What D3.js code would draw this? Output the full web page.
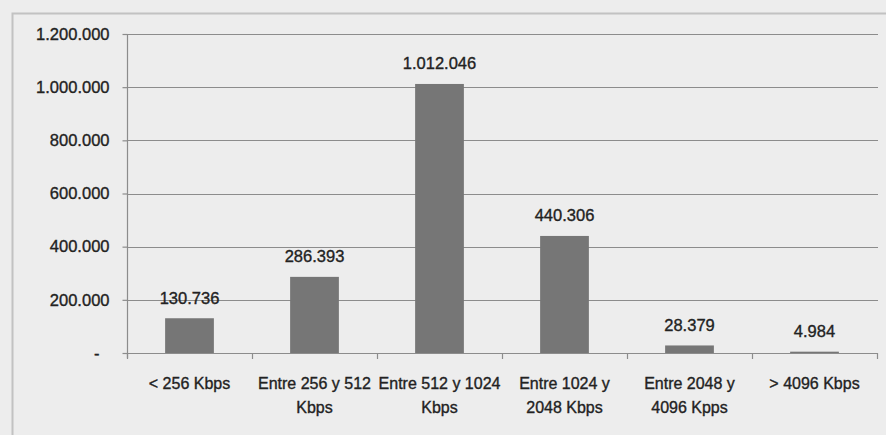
<!DOCTYPE html>
<html>
<head>
<meta charset="utf-8">
<script src="https://cdn.jsdelivr.net/npm/d3@7"></script>
<style>
  html, body { margin: 0; padding: 0; background: #ededed; }
  svg { display: block; }
  text { font-family: "Liberation Sans", Arial, sans-serif; fill: #222; stroke: #222; stroke-width: 0.35px; }
</style>
</head>
<body>
<svg id="chart" width="886" height="435"></svg>
<script>
// Internet connections by contracted speed
const categories = [
  "< 256 Kbps",
  "Entre 256 y 512 Kbps",
  "Entre 512 y 1024 Kbps",
  "Entre 1024 y 2048 Kbps",
  "Entre 2048 y 4096 Kpps",
  "> 4096 Kbps"
];
const categoryLines = [
  ["< 256 Kbps"],
  ["Entre 256 y 512", "Kbps"],
  ["Entre 512 y 1024", "Kbps"],
  ["Entre 1024 y", "2048 Kbps"],
  ["Entre 2048 y", "4096 Kpps"],
  ["> 4096 Kbps"]
];
const values = [130736, 286393, 1012046, 440306, 28379, 4984];
const yTicks = [0, 200000, 400000, 600000, 800000, 1000000, 1200000];

const svg = d3.select("#chart");
const W = 886, H = 435;
const plot = { left: 127, right: 877, top: 34, bottom: 353 };
const numSize = 16.5, catSize = 16;

// es-ES style number formatting: dots as thousands separator
const locale = d3.formatLocale({ decimal: ",", thousands: ".", grouping: [3], currency: ["", " €"] });
const fmt = locale.format(",.0f");

// outer chart frame
svg.append("rect")
  .attr("x", 12.5).attr("y", 13.5)
  .attr("width", W).attr("height", H)
  .attr("fill", "none")
  .attr("stroke", "#c2c2c2")
  .attr("stroke-width", 2);

const x = d3.scaleBand()
  .domain(categories)
  .range([plot.left, plot.right])
  .paddingInner(0).paddingOuter(0);

const y = d3.scaleLinear()
  .domain([0, 1200000])
  .range([plot.bottom, plot.top]);

// horizontal gridlines
svg.append("g")
  .selectAll("line")
  .data(yTicks.filter(d => d > 0))
  .join("line")
  .attr("x1", plot.left).attr("x2", plot.right + 1)
  .attr("y1", d => Math.round(y(d)) + 0.5)
  .attr("y2", d => Math.round(y(d)) + 0.5)
  .attr("stroke", "#8c8c8c")
  .attr("stroke-width", 1.2);

// y axis
const yAxis = d3.axisLeft(y)
  .tickValues(yTicks)
  .tickSize(5)
  .tickPadding(13)
  .tickFormat(d => d === 0 ? "-" : fmt(d));

const gy = svg.append("g")
  .attr("transform", `translate(${plot.left + 0.5},0)`)
  .call(yAxis);
gy.attr("font-family", null);
gy.select(".domain").attr("stroke", "#8c8c8c").attr("stroke-width", 1.2)
  .attr("d", `M0,${plot.top}V${plot.bottom + 5}`);
gy.selectAll(".tick line").attr("stroke", "#8c8c8c").attr("stroke-width", 1.2);
gy.selectAll(".tick text")
  .attr("font-size", numSize)
  .attr("fill", "#222");
gy.selectAll(".tick").filter(d => d === 0).select("text").attr("dx", -10);

// bars
const barW = x.bandwidth() * 0.39;
svg.append("g")
  .selectAll("rect")
  .data(values)
  .join("rect")
  .attr("x", (d, i) => x(categories[i]) + (x.bandwidth() - barW) / 2)
  .attr("width", barW)
  .attr("y", d => y(d))
  .attr("height", d => plot.bottom - y(d))
  .attr("fill", "#767676");

// x axis line and ticks at category boundaries
const gx = svg.append("g");
gx.append("line")
  .attr("x1", plot.left).attr("x2", plot.right + 1)
  .attr("y1", plot.bottom + 0.5).attr("y2", plot.bottom + 0.5)
  .attr("stroke", "#8c8c8c").attr("stroke-width", 1.2);
const bounds = categories.map(c => x(c)).concat([plot.right]);
gx.selectAll("line.b")
  .data(bounds)
  .join("line")
  .attr("class", "b")
  .attr("x1", d => d + 0.5).attr("x2", d => d + 0.5)
  .attr("y1", plot.bottom).attr("y2", plot.bottom + 6)
  .attr("stroke", "#8c8c8c").attr("stroke-width", 1.2);

// category labels
const catG = svg.append("g");
categoryLines.forEach((lines, i) => {
  const cx = x(categories[i]) + x.bandwidth() / 2;
  const t = catG.append("text")
    .attr("x", cx)
    .attr("y", 389)
    .attr("text-anchor", "middle")
    .attr("font-size", catSize);
  lines.forEach((ln, j) => {
    t.append("tspan")
      .attr("x", cx)
      .attr("dy", j === 0 ? 0 : 24)
      .text(ln);
  });
});

// value labels above bars
svg.append("g")
  .selectAll("text")
  .data(values)
  .join("text")
  .attr("x", (d, i) => x(categories[i]) + x.bandwidth() / 2)
  .attr("y", d => y(d) - 14.5)
  .attr("text-anchor", "middle")
  .attr("font-size", numSize)
  .text(d => fmt(d));
</script>
</body>
</html>
